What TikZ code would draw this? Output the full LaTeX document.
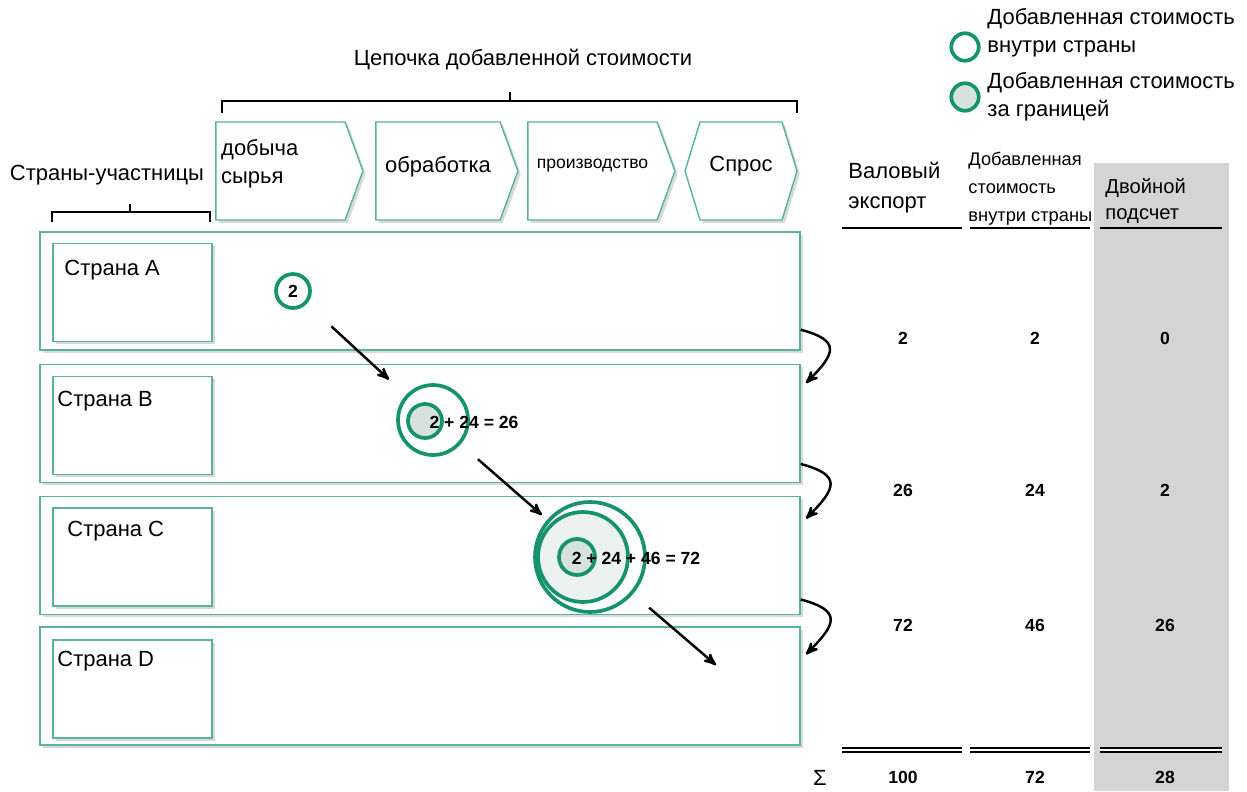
\documentclass[tikz,border=0pt]{standalone}
\usepackage{fontspec}
\setmainfont{Liberation Sans}
\usetikzlibrary{shapes, shapes.symbols, shadows, positioning, arrows}
\definecolor{rowgreen}{RGB}{88,178,158}
\definecolor{ringgreen}{RGB}{22,146,108}
\definecolor{ringfill}{RGB}{214,226,222}
\definecolor{ringpale}{RGB}{234,241,239}
\definecolor{colgray}{RGB}{212,212,212}

\begin{document}
\begin{tikzpicture}[x=0.02cm,y=-0.02cm,>=stealth',thick,
    soft shadow/.style={drop shadow={opacity=0.3,shadow xshift=1.6pt,shadow yshift=-1.6pt}},
    chain box/.style={signal,signal to=east,signal pointer angle=140,draw=rowgreen,fill=white,
                      line width=0.8pt,minimum height=1.96cm,inner sep=1pt,text depth=8pt,soft shadow,
                      font=\fontsize{12.5}{16}\selectfont},
    row box/.style={rectangle,draw=rowgreen,fill=white,line width=0.9pt,minimum width=15.2cm,
                    minimum height=2.36cm,soft shadow},
    country box/.style={rectangle,draw=rowgreen,fill=white,line width=0.9pt,minimum width=3.18cm,
                        minimum height=1.96cm,soft shadow},
    plain text/.style={font=\fontsize{12.5}{16}\selectfont,inner sep=1pt},
    ring/.style={circle,draw=ringgreen,line width=2.1pt,inner sep=0pt},
    sum text/.style={font=\fontsize{10}{12}\selectfont\bfseries,inner sep=1pt},
    flow arrow/.style={->,line width=1.4pt}]
  \useasboundingbox (0,0) rectangle (1247,791);

  % value chain
  \node[plain text] (chainTitle) at (523,60) {Цепочка добавленной стоимости};
  \draw[line width=1.3pt] (222,113) -- (222,101) -- (797,101) -- (797,113);
  \draw[line width=1.3pt] (510,101) -- (510,92);
  \node[chain box,minimum width=2.94cm] (raw) at (280.5,171) {};
  \node[plain text,anchor=west,align=left] (rawTxt) at ([xshift=2pt,yshift=4pt]raw.west) {добыча\\сырья};
  \node[chain box,minimum width=2.84cm] (proc) at (438,171) {обработка};
  \node[chain box,minimum width=2.94cm,font=\fontsize{10}{12}\selectfont] (prod) at (592.5,171) {производство};
  \node[chain box,signal to=east and west,signal pointer angle=146,minimum width=2.24cm] (dem) at (741,171) {Спрос};

  % countries
  \node[plain text] (partTitle) at (107,175) {Страны-участницы};
  \draw[line width=1.3pt] (52,222) -- (52,212) -- (210,212) -- (210,222);
  \draw[line width=1.3pt] (130,212) -- (130,204);

  \node[row box] (rowA) at (420,291) {};
  \node[row box] (rowB) at (420,423.5) {};
  \node[row box] (rowC) at (420,555.5) {};
  \node[row box] (rowD) at (420,686) {};

  \node[country box] (boxA) at (132.5,292.5) {};
  \node[country box] (boxB) at (132.5,425.5) {};
  \node[country box] (boxC) at (132.5,557) {};
  \node[country box] (boxD) at (132.5,689) {};
  \node[plain text,anchor=west] (labA) at (62,270) {Страна A};
  \node[plain text,anchor=west] (labB) at (55,401) {Страна B};
  \node[plain text,anchor=west] (labC) at (65,531) {Страна C};
  \node[plain text,anchor=west] (labD) at (55,661) {Страна D};

  % rings
  \node[ring,minimum size=0.68cm,fill=white,sum text] (ringA) at (293,291) {2};
  \node[ring,minimum size=1.4cm] (ringBout) at (433,420) {};
  \node[ring,minimum size=0.68cm,fill=ringfill] (ringBin) at (425,421) {};
  \node[sum text] (txtB) at (474,422) {2 + 24 = 26};
  \node[ring,minimum size=2.2cm] (ringCout) at (590,557) {};
  \node[ring,minimum size=1.8cm,fill=ringpale] (ringCmid) at (583,557) {};
  \node[ring,minimum size=0.72cm,fill=ringfill] (ringCin) at (577,557) {};
  \node[sum text] (txtC) at (636,558) {2 + 24 + 46 = 72};
  \coordinate (endD) at (716,665);

  \draw[flow arrow,shorten <=19pt,shorten >=13pt] (ringA) -- (ringBout);
  \draw[flow arrow,shorten <=13pt,shorten >=4pt] (ringBout) -- (ringCout);
  \draw[flow arrow,shorten <=12pt] (ringCout) -- (endD);

  \foreach \u/\v/\s/\e in {A/B/12/11,B/C/11/13,C/D/9/16}
    \draw[flow arrow] ([yshift=\s pt]row\u.south east) to[out=-15,in=45,looseness=2]
      ([xshift=3pt,yshift=-\e pt]row\v.north east);

  % table
  \fill[colgray] (1094,163) rectangle (1229,791);
  \node[plain text,anchor=west,align=left,font=\fontsize{12.5}{17}\selectfont] (hExp) at (846,188) {Валовый\\экспорт};
  \node[plain text,anchor=west,align=left,font=\fontsize{10.4}{16}\selectfont] (hDom) at (966,189) {Добавленная\\стоимость\\внутри страны};
  \node[plain text,anchor=west,align=left,font=\fontsize{11.5}{15}\selectfont] (hDbl) at (1103,201) {Двойной\\подсчет};
  \foreach \a/\b in {842/962,970/1090,1100/1222} {
    \draw[line width=1.3pt] (\a,228) -- (\b,228);
    \draw[line width=1.2pt,double,double distance=0.9pt] (\a,750) -- (\b,750);
  }
  \foreach \y/\a/\b/\c in {338/2/2/0,490/26/24/2,625/72/46/26,777/100/72/28} {
    \node[sum text] (exp\y) at (903,\y) {\a};
    \node[sum text] (dom\y) at (1035,\y) {\b};
    \node[sum text] (dbl\y) at (1165,\y) {\c};
  }
  \node[plain text] (sigma) at (820,778) {Σ};

  % legend
  \node[ring,minimum size=0.55cm,fill=white] (legIn) at (965,47) {};
  \node[plain text,anchor=west,align=left] (legInTxt) at (985,33) {Добавленная стоимость\\внутри страны};
  \node[ring,minimum size=0.55cm,fill=ringfill] (legOut) at (965,97) {};
  \node[plain text,anchor=west,align=left] (legOutTxt) at (985,97) {Добавленная стоимость\\за границей};
\end{tikzpicture}
\end{document}
